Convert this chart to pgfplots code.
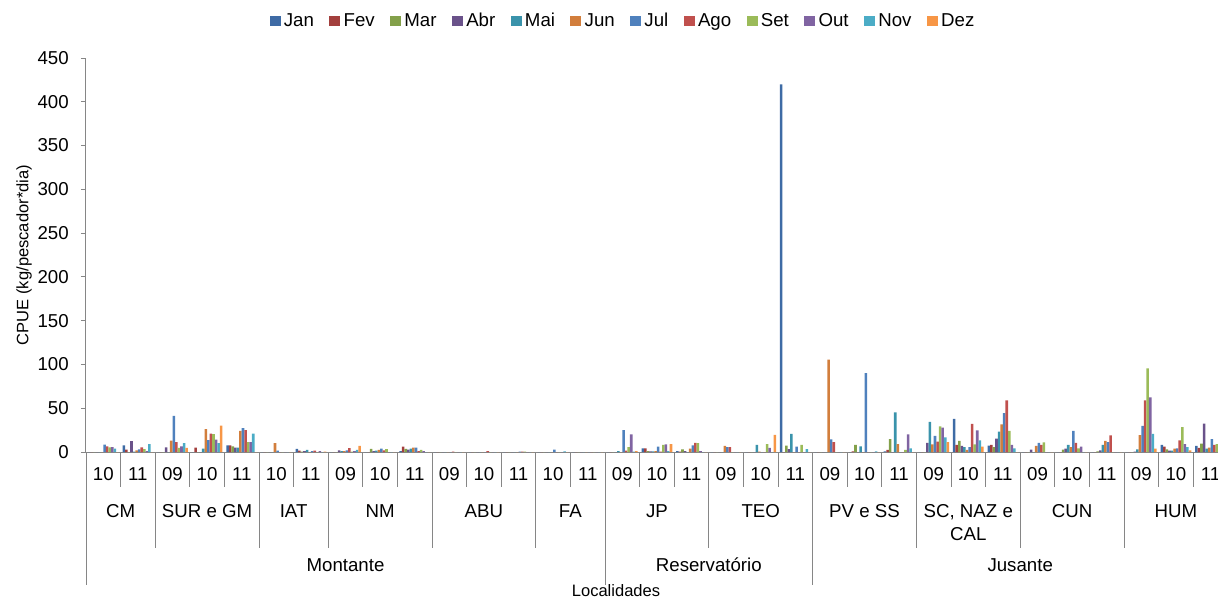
\documentclass[border=0pt]{standalone}
\usepackage{fontspec}
\setmainfont{Liberation Sans}
\usepackage{pgfplots}
\usepackage{pgfplotstable}
\pgfplotsset{compat=1.18}
\definecolor{cJan}{HTML}{3E6BA5}
\definecolor{cFev}{HTML}{A33F3D}
\definecolor{cMar}{HTML}{83A04A}
\definecolor{cAbr}{HTML}{6A528A}
\definecolor{cMai}{HTML}{3A93AB}
\definecolor{cJun}{HTML}{D27E3C}
\definecolor{cJul}{HTML}{4F81BD}
\definecolor{cAgo}{HTML}{C0504D}
\definecolor{cSet}{HTML}{9BBB59}
\definecolor{cOut}{HTML}{8064A2}
\definecolor{cNov}{HTML}{4BACC6}
\definecolor{cDez}{HTML}{F79646}
\definecolor{axgray}{HTML}{868686}
\newcommand\fs{\fontsize{14}{17.25}\selectfont}
\newcommand\ft{\fontsize{12.4}{15}\selectfont}
\pgfplotstableread{
x Jan Fev Mar Abr Mai Jun Jul Ago Set Out Nov Dez
0.5 0 0 0 0 0 0 8.4 6.5 5.3 5.7 3.8 0
1.5 7.6 2.7 0 12.5 0.5 2 3 5.3 3.4 1 9 0
2.5 0 0 0 5.3 0 13 41.4 11.4 4.6 6.5 10 4.6
3.5 0 5 0 0 3.8 26 13.7 21 20.5 14 10 30
4.5 7.6 7.6 6.5 5 5 24 27.4 25 11.4 11.4 21 0
5.5 0 0 0 0 0 10 1.5 0 0 0 0 0
6.5 3.5 1.5 0.5 1 2.5 0 1 1.5 0 1 0 0.5
7.5 0 0 0 2 1 1 2 4.5 0.5 1 2.5 7
8.5 0 0 3.5 1 1.5 2.5 3.8 2 3.4 0 0 0
9.5 1 6 3.5 2.7 3.8 5 5 1 2.3 1 0 0
10.5 0 0 0 0 0 0 0 0.4 0 0 0 0
11.5 0 0 0 0 0 0 0 1 0 0 0 0
12.5 0 0 0 0 0 0 0.5 0.5 0.5 0 0 0
13.5 0 0 0 0 0 0 2.7 0 0 0 0.8 0
14.5 0 0 0 0 0 0 0 0 0 0 0 0
15.5 0 0 0 0 1 0 25 1.5 5.7 20 0.5 1
16.5 4.2 4.2 1 0.8 0.8 1 6 0.5 8 8.8 1 9
17.5 1 0.3 3 1 0 3.8 7.6 10.3 10 1 0 0
18.5 0 0 0 0 0 7 5.7 5.7 0 0 0 0
19.5 0 0 0 0 8 0.5 0 0 9 4.6 0 19.5
20.5 420 0 7.2 3.4 20.6 0 6 0 8 0 3.4 0
21.5 0 0 0 0 0 105.5 14.5 11.4 0 0 0 0
22.5 0 0.8 8 0 6.5 0 90 0 0 0 0.8 0
23.5 0.8 2.3 14.8 0 45.3 9.1 0 0 2.3 20.2 4.2 0
24.5 0 0 0 10.3 34.3 8.8 18.3 11.8 29.3 27.8 16.7 11.4
25.5 37.7 8 12.6 6.9 5.7 2.3 5.7 32 8.8 24.7 13.3 6.1
26.5 7.2 8 5.7 15.2 23.2 31.6 44.5 59 24 8 4.2 0
27.5 0 0 0 2.7 0 6.9 10.3 8 11 0 0 0
28.5 0 0 2.7 3.8 8 5.7 24 10.3 4.2 6.1 0 0
29.5 0 0 0.8 1.9 8 12.6 11.4 19 0 0 0 0
30.5 0 0 0 0.5 3 19.4 29.7 59 95.5 62.4 20.6 3.8
31.5 8 6.1 3 1.5 1.5 3.8 4.2 13.3 28.5 9.1 5.7 1.9
32.5 6.9 4.6 9.5 32.4 3.8 4.9 14.8 8 9 5 3 2
}\data
\begin{document}
\begin{tikzpicture}[x=0.75pt,y=0.75pt]
\path[use as bounding box, clip] (0,0) rectangle (1218,601);
\begin{axis}[
  at={(64.5pt,111.75pt)}, anchor=south west,
  scale only axis, width=856.35pt, height=295.5pt,
  xmin=0, xmax=33, ymin=0, ymax=450,
  axis lines*=left,
  axis line style={draw=axgray, line width=0.75pt},
  ybar, bar width=0.0741,
  ytick={0,50,...,450},
  ytick style={draw=axgray, line width=0.75pt},
  tick align=outside, major tick length=3.75pt,
  xtick=\empty,
  /pgf/number format/assume math mode=true,
  yticklabel style={font=\fs, anchor=east, inner sep=0pt, xshift=-9pt},
  clip=false,
  legend columns=12,
  legend style={at={(0.47,1.094)}, anchor=center, draw=none, fill=none, font=\fs,
    nodes={inner sep=1pt},
    /tikz/every odd column/.append style={column sep=1.5pt},
    /tikz/every even column/.append style={column sep=10.5pt}},
  legend image code/.code={\fill[#1] (0pt,-4.1pt) rectangle (8.25pt,4.1pt);},
]
\addplot[fill=cJan, draw=none, bar shift=-0.40755] table[x=x,y=Jan]{\data};
\addplot[fill=cFev, draw=none, bar shift=-0.33345] table[x=x,y=Fev]{\data};
\addplot[fill=cMar, draw=none, bar shift=-0.25935] table[x=x,y=Mar]{\data};
\addplot[fill=cAbr, draw=none, bar shift=-0.18525] table[x=x,y=Abr]{\data};
\addplot[fill=cMai, draw=none, bar shift=-0.11115] table[x=x,y=Mai]{\data};
\addplot[fill=cJun, draw=none, bar shift=-0.03705] table[x=x,y=Jun]{\data};
\addplot[fill=cJul, draw=none, bar shift=0.03705] table[x=x,y=Jul]{\data};
\addplot[fill=cAgo, draw=none, bar shift=0.11115] table[x=x,y=Ago]{\data};
\addplot[fill=cSet, draw=none, bar shift=0.18525] table[x=x,y=Set]{\data};
\addplot[fill=cOut, draw=none, bar shift=0.25935] table[x=x,y=Out]{\data};
\addplot[fill=cNov, draw=none, bar shift=0.33345] table[x=x,y=Nov]{\data};
\addplot[fill=cDez, draw=none, bar shift=0.40755] table[x=x,y=Dez]{\data};
\legend{Jan,Fev,Mar,Abr,Mai,Jun,Jul,Ago,Set,Out,Nov,Dez}
\end{axis}
% category separators
\foreach \i in {0,...,33} \draw[axgray, line width=0.75pt] ({86+34.6*\i},149) -- ({86+34.6*\i},114);
\foreach \i in {0,2,5,7,10,13,15,18,21,24,27,30,33} \draw[axgray, line width=0.75pt] ({86+34.6*\i},149) -- ({86+34.6*\i},53);
\foreach \i in {0,15,21,33} \draw[axgray, line width=0.75pt] ({86+34.6*\i},149) -- ({86+34.6*\i},16);
% year labels
\foreach \i/\l in {0/10,1/11,2/09,3/10,4/11,5/10,6/11,7/09,8/10,9/11,10/09,11/10,12/11,13/10,14/11,15/09,16/10,17/11,18/09,19/10,20/11,21/09,22/10,23/11,24/09,25/10,26/11,27/09,28/10,29/11,30/09,31/10,32/11}
  \node[font=\fs, inner sep=0pt] at ({86+34.6*(\i+0.5)},127) {\l};
% locality labels
\foreach \c/\l in {1/CM,3.5/SUR e GM,6/IAT,8.5/NM,11.5/ABU,14/FA,16.5/JP,19.5/TEO,22.5/PV e SS,28.5/CUN,31.5/HUM}
  \node[font=\fs, inner sep=0pt] at ({86+34.6*\c},90) {\l};
\node[font=\fs, inner sep=0pt, align=center] at ({86+34.6*25.5},78.5) {SC, NAZ e\\CAL};
% region labels
\foreach \c/\l in {7.5/Montante,18/Reservatório,27/Jusante}
  \node[font=\fs, inner sep=0pt] at ({86+34.6*\c},36) {\l};
\node[font=\ft, inner sep=0pt] at (616,10) {Localidades};
\node[font=\ft, inner sep=0pt, rotate=90] at (24,346) {CPUE (kg/pescador*dia)};
\end{tikzpicture}
\end{document}
